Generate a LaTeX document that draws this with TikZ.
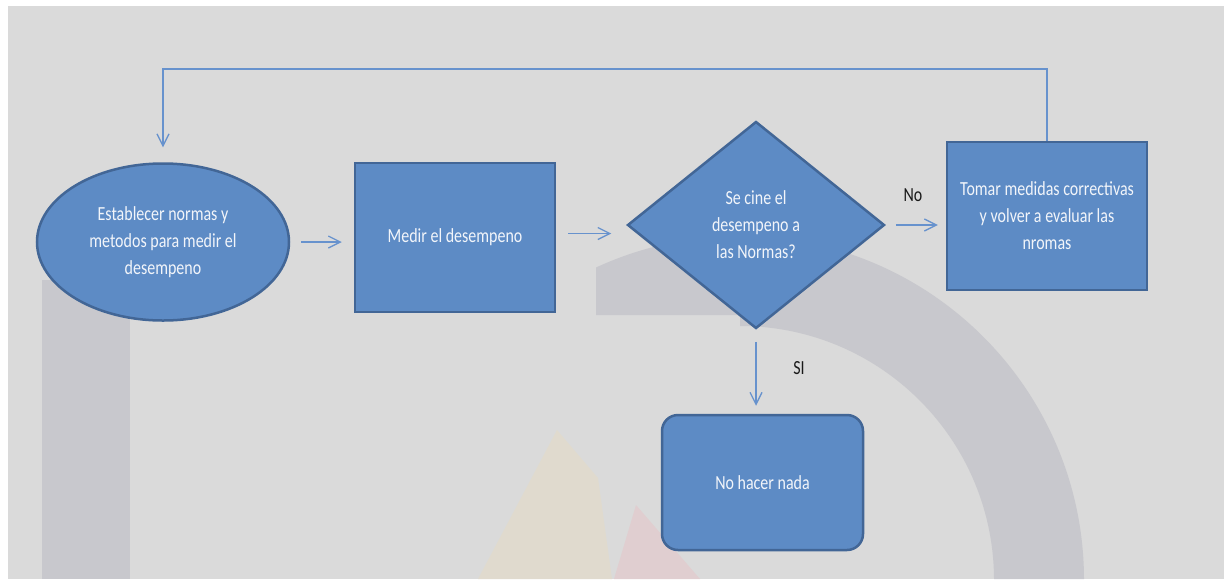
\documentclass[tikz,border=0pt]{standalone}
\usepackage{fontspec}
\setmainfont{Carlito}[FakeStretch=0.8]
\usetikzlibrary{shapes.geometric,arrows.meta,calc}
\definecolor{bggrey}{RGB}{218,218,218}
\definecolor{wmgrey}{RGB}{200,200,205}
\definecolor{wmyellow}{RGB}{224,218,206}
\definecolor{wmred}{RGB}{224,206,208}
\definecolor{boxfill}{RGB}{93,139,197}
\definecolor{boxline}{RGB}{66,102,150}
\definecolor{conn}{RGB}{103,146,205}
\definecolor{boxtext}{RGB}{242,245,250}
\definecolor{lbltext}{RGB}{25,25,25}
\tikzset{
  flowbox/.style={draw=boxline, line width=2.5pt, fill=boxfill, text=boxtext,
    font=\fontsize{20}{27}\selectfont, align=center, inner sep=0pt},
  rectbox/.style={flowbox, rectangle, minimum width=200pt, minimum height=148pt},
  ovalbox/.style={flowbox, ellipse, minimum width=252pt, minimum height=157pt},
  decbox/.style={flowbox, diamond, minimum width=257pt, minimum height=207pt},
  roundbox/.style={flowbox, rectangle, rounded corners=16pt, minimum width=201pt, minimum height=135pt},
  conarrow/.style={draw=conn, line width=1.3pt, -{Straight Barb[length=12pt,width=12pt,line width=1.3pt]}},
  lbl/.style={text=lbltext, font=\fontsize{20}{24}\selectfont, inner sep=0pt}
}
\begin{document}
\begin{tikzpicture}[x=1pt,y=-1pt]
\useasboundingbox (0,0) rectangle (1225,579);
\fill[white] (0,0) rectangle (1225,579);
\fill[bggrey] (8,6) rectangle (1224,579);
% faint watermark
\fill[wmgrey] (42,280) rectangle (130,579);
\begin{scope}
  \clip (596,0) rectangle (1225,315) (740,315) rectangle (1225,579);
  \fill[wmgrey, even odd rule] (740,580) circle[radius=344pt] (740,580) circle[radius=254pt];
\end{scope}
\fill[wmyellow] (557,430) -- (598,478) -- (612,579) -- (478,579) -- cycle;
\fill[wmred] (636,505) -- (700,579) -- (614,579) -- cycle;

% nodes
\node[ovalbox]  (e) at (163,242)   {Establecer normas y\\metodos para medir el\\desempeno};
\node[rectbox, minimum height=149pt] (m) at (455,237.5) {Medir el desempeno};
\node[decbox]   (d) at (756,225)   {Se cine el\\desempeno a\\las Normas?};
\node[rectbox]  (r) at (1047,216)  {Tomar medidas correctivas\\y volver a evaluar las\\nromas};
\node[roundbox] (n) at (762.5,482.5) {No hacer nada};

\node[lbl] (no) at (913,195) {No};
\node[lbl] (si) at (799,368) {SI};

\coordinate (top) at (0,69);

% connectors
\draw[conarrow, shorten <=11pt, shorten >=12pt] (e.east) -- (e.east -| m.west);
\draw[conarrow, shorten <=12pt, shorten >=15pt] ([yshift=4pt]m.east) -- ([yshift=4pt]m.east -| d.west);
\draw[conarrow, shorten <=10pt, shorten >=8pt] (d.east) -- (d.east -| r.west);
\draw[conarrow, shorten <=12pt, shorten >=8pt] (d.south) -- (d.south |- n.north);
\draw[conarrow, shorten >=15pt] (r.north) -- (r.north |- top) -| (e.north);
\end{tikzpicture}
\end{document}
